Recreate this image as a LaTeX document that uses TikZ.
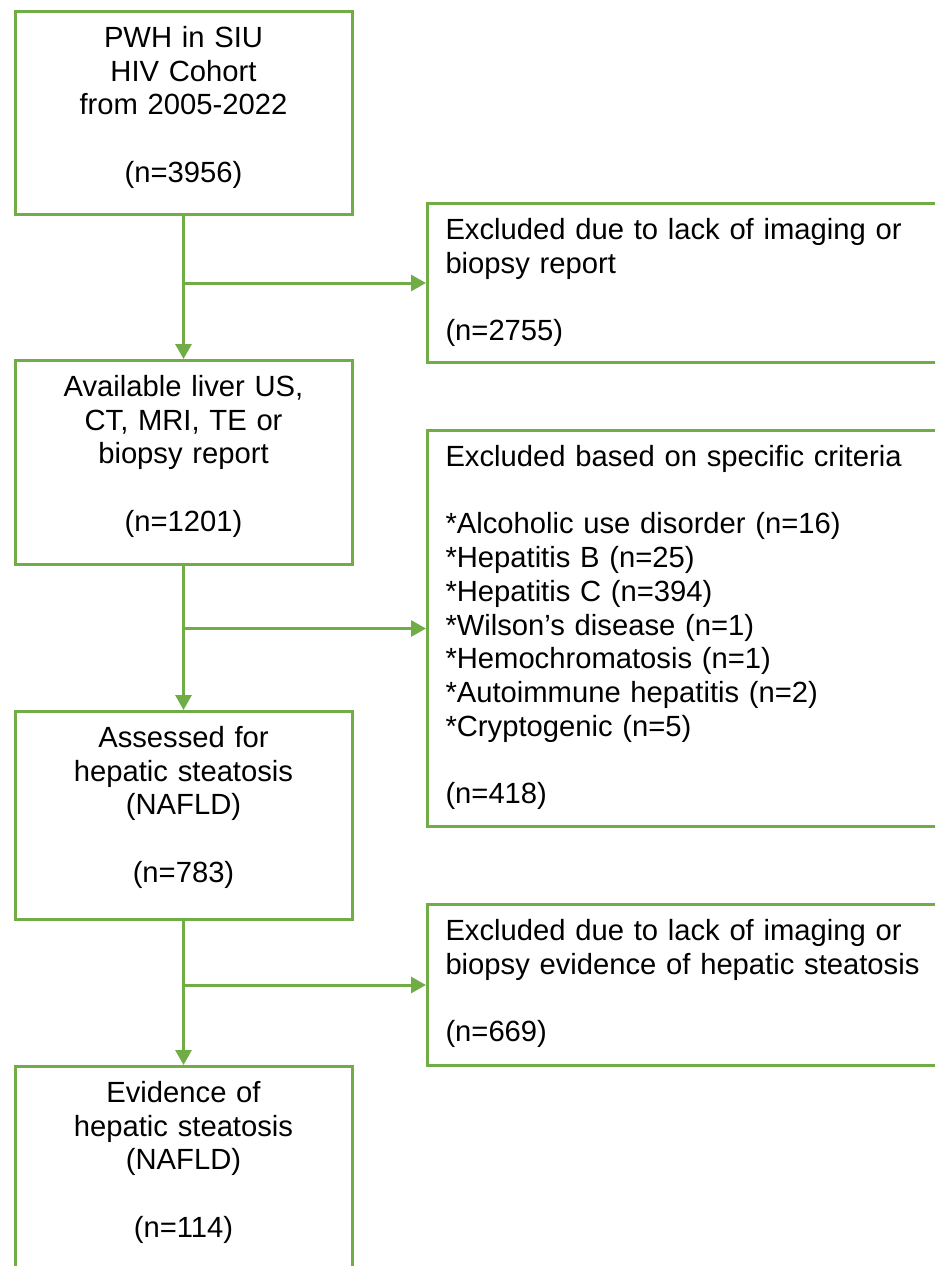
\documentclass[tikz,border=0pt]{standalone}
\usepackage{fontspec}
\setmainfont{Liberation Sans}
\usetikzlibrary{arrows.meta}
\definecolor{boxgreen}{HTML}{70AD47}
\tikzset{
  flow_n/.style = {draw=boxgreen, line width=1.5pt, inner sep=0pt, text=black,
    text height=18pt, font=\fontsize{14.6}{16.85}\selectfont},
  step_n/.style = {flow_n, anchor=north, align=center, text width=168.5pt},
  excl_n/.style = {flow_n, anchor=north west, align=left, inner xsep=9pt,
    text width=249pt},
  link/.style = {boxgreen, line width=1.5pt}}

\begin{document}
\begin{tikzpicture}[x=0.5pt, y=-0.5pt, ->, >={Triangle[length=7.5pt,width=8pt]}]
 \useasboundingbox (0,0) rectangle (935,1266);
 \clip (0,0) rectangle (935,1266);

% main column
\node [step_n, text depth=83.5pt] (cohort) at (183.5,10)
	{PWH in SIU\\HIV Cohort\\from 2005-2022\\~\\(n=3956)};
\node [step_n, text depth=84pt] (avail) at (183.5,359)
	{Available liver US,\\CT, MRI, TE or\\biopsy report\\~\\(n=1201)};
\node [step_n, text depth=86pt] (assess) at (183.5,710)
	{Assessed for\\hepatic steatosis\\(NAFLD)\\~\\(n=783)};
\node [step_n, text depth=87pt] (nafld) at (183.5,1065)
	{Evidence of\\hepatic steatosis\\(NAFLD)\\~\\(n=114)};

% exclusions
\node [excl_n, text depth=61.5pt] (noimg) at (426,202)
	{Excluded due to lack of imaging or\\biopsy report\\~\\(n=2755)};
\node [excl_n, text depth=180pt] (crit) at (426,429)
	{Excluded based on specific criteria\\~\\
	{}*Alcoholic use disorder (n=16)\\
	{}*Hepatitis B (n=25)\\
	{}*Hepatitis C (n=394)\\
	{}*Wilson's disease (n=1)\\
	{}*Hemochromatosis (n=1)\\
	{}*Autoimmune hepatitis (n=2)\\
	{}*Cryptogenic (n=5)\\~\\(n=418)};
\node [excl_n, text depth=62.5pt] (nosteat) at (426,903)
	{Excluded due to lack of imaging or\\biopsy evidence of hepatic steatosis\\~\\(n=669)};

\draw [link] (cohort.south) -- (avail.north);
\draw [link] (avail.south) -- (assess.north);
\draw [link] (assess.south) -- (nafld.north);
\draw [link] (cohort.south |- noimg.west) -- (noimg.west);
\draw [link] (avail.south |- crit.west) -- (crit.west);
\draw [link] (assess.south |- nosteat.west) -- (nosteat.west);
\end{tikzpicture}
\end{document}
